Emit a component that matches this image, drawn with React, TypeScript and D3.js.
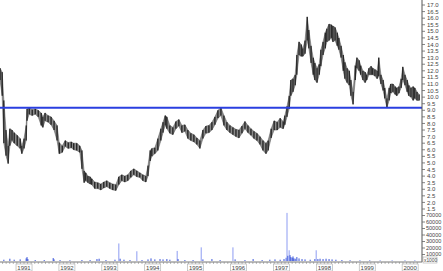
import React from "react";
import * as d3 from "d3";

const W = 443;
const H = 271;

// decimal-year dates of price bars
const dates = [
  1990.44, 1990.49, 1990.53, 1990.58, 1990.63, 1990.67, 1990.72, 1990.77, 1990.84, 1990.91,
  1990.95, 1991.0, 1991.05, 1991.07, 1991.12, 1991.19, 1991.26, 1991.33, 1991.4, 1991.44,
  1991.49, 1991.56, 1991.63, 1991.7, 1991.77, 1991.82, 1991.89, 1991.96, 1992.03, 1992.1,
  1992.16, 1992.23, 1992.3, 1992.35, 1992.4, 1992.44, 1992.49, 1992.54, 1992.58, 1992.65,
  1992.72, 1992.79, 1992.86, 1992.93, 1993.0, 1993.07, 1993.14, 1993.21, 1993.28, 1993.35,
  1993.42, 1993.49, 1993.56, 1993.63, 1993.7, 1993.77, 1993.84, 1993.89, 1993.94, 1993.98,
  1994.05, 1994.12, 1994.19, 1994.24, 1994.29, 1994.33, 1994.4, 1994.47, 1994.54, 1994.61,
  1994.68, 1994.75, 1994.82, 1994.89, 1994.96, 1995.03, 1995.1, 1995.17, 1995.24, 1995.31,
  1995.38, 1995.45, 1995.52, 1995.59, 1995.66, 1995.73, 1995.8, 1995.87, 1995.94, 1996.01,
  1996.08, 1996.15, 1996.22, 1996.29, 1996.36, 1996.43, 1996.5, 1996.57, 1996.64, 1996.69,
  1996.76, 1996.83, 1996.9, 1996.97, 1997.04, 1997.08, 1997.13, 1997.18, 1997.22, 1997.27,
  1997.32, 1997.36, 1997.41, 1997.46, 1997.5, 1997.55, 1997.6, 1997.64, 1997.69, 1997.74,
  1997.78, 1997.83, 1997.88, 1997.92, 1997.97, 1998.02, 1998.06, 1998.11, 1998.16, 1998.2,
  1998.25, 1998.3, 1998.34, 1998.39, 1998.44, 1998.48, 1998.53, 1998.58, 1998.62, 1998.67,
  1998.72, 1998.76, 1998.81, 1998.85, 1998.9, 1998.95, 1998.99, 1999.04, 1999.09, 1999.13,
  1999.18, 1999.23, 1999.27, 1999.32, 1999.37, 1999.41, 1999.46, 1999.51, 1999.55, 1999.6,
  1999.65, 1999.69, 1999.74, 1999.79, 1999.83, 1999.88, 1999.93, 1999.97, 2000.02, 2000.07,
  2000.11, 2000.16, 2000.21,
];

const highs = [
  12.2, 11.9, 9.75, 7.5, 6.3, 7.6, 7.5, 7.3, 7.1, 6.85,
  6.3, 6.85, 7.85, 9.1, 9.2, 9.05, 9.1, 9.0, 8.8, 8.5,
  8.8, 8.6, 8.5, 8.2, 7.85, 6.55, 6.3, 6.7, 6.55, 6.6,
  6.5, 6.5, 6.3, 5.95, 4.4, 4.25, 4.0, 3.95, 3.8, 3.55,
  3.5, 3.4, 3.55, 3.65, 3.5, 3.4, 3.35, 3.95, 4.1, 4.0,
  4.1, 4.4, 4.55, 4.4, 4.25, 4.1, 4.0, 4.8, 5.95, 6.1,
  6.15, 6.85, 7.6, 8.1, 8.6, 8.5, 7.85, 7.7, 8.15, 8.3,
  7.85, 7.9, 7.5, 7.25, 7.15, 6.9, 6.7, 7.5, 7.8, 7.85,
  8.1, 8.5, 9.0, 9.2, 8.6, 8.1, 7.85, 7.7, 7.55, 7.5,
  7.8, 8.15, 7.85, 7.6, 7.4, 7.25, 7.0, 6.7, 6.5, 6.7,
  7.6, 8.2, 8.1, 8.4, 8.15, 8.6, 9.3, 10.1, 11.3, 11.4,
  11.7, 13.2, 14.2, 14.0, 13.7, 14.3, 16.1, 15.1, 13.9, 13.0,
  12.6, 12.2, 12.5, 13.6, 14.2, 14.9, 15.2, 15.55, 15.5, 15.4,
  15.3, 14.9, 14.5, 13.9, 13.2, 12.65, 12.2, 12.0, 11.3, 10.4,
  12.4, 13.0, 12.8, 12.4, 12.0, 11.9, 11.7, 12.2, 12.35, 12.2,
  12.1, 12.0, 13.0, 11.7, 11.3, 10.7, 9.9, 10.7, 11.0, 11.0,
  10.8, 10.7, 10.8, 11.4, 12.3, 11.7, 11.3, 10.9, 10.7, 10.8,
  10.7, 10.4, 10.2,
];

const lows = [
  11.3, 10.1, 6.5, 5.55, 4.95, 6.3, 6.7, 6.5, 6.3, 6.1,
  5.7, 6.1, 6.7, 8.2, 8.7, 8.6, 8.7, 8.5, 7.85, 7.7,
  8.2, 8.1, 7.9, 7.5, 6.7, 5.7, 5.8, 6.25, 6.1, 6.15,
  6.0, 5.95, 5.8, 4.55, 3.5, 3.65, 3.5, 3.4, 3.35, 3.05,
  3.05, 2.95, 3.1, 3.2, 3.05, 2.95, 2.9, 3.35, 3.65, 3.55,
  3.65, 3.9, 4.1, 3.95, 3.9, 3.65, 3.55, 4.0, 5.15, 5.5,
  5.7, 5.95, 6.7, 7.3, 7.85, 7.6, 7.25, 7.15, 7.6, 7.8,
  7.3, 7.4, 6.85, 6.7, 6.6, 6.4, 6.1, 6.85, 7.25, 7.3,
  7.5, 7.9, 8.4, 8.6, 7.85, 7.5, 7.3, 7.15, 7.0, 6.9,
  7.25, 7.6, 7.3, 7.1, 6.85, 6.7, 6.4, 5.95, 5.7, 5.95,
  6.9, 7.5, 7.5, 7.7, 7.6, 7.9, 8.5, 9.1, 10.1, 10.4,
  10.9, 11.7, 13.2, 13.1, 13.1, 13.3, 14.3, 13.7, 12.6, 11.7,
  11.3, 11.1, 11.7, 12.35, 13.2, 13.7, 14.2, 14.3, 14.5, 14.2,
  14.3, 13.9, 13.6, 13.0, 12.0, 11.4, 11.1, 10.9, 10.1, 9.45,
  11.3, 12.2, 12.0, 11.7, 11.3, 11.1, 11.3, 11.7, 11.7, 11.7,
  11.6, 11.4, 11.6, 11.0, 10.5, 9.9, 9.2, 9.75, 10.3, 10.4,
  10.2, 10.1, 10.3, 10.7, 11.3, 10.9, 10.4, 10.1, 10.0, 9.75,
  9.9, 9.75, 9.75,
];

const volDates = [
  1990.53, 1990.67, 1990.77, 1990.91, 1991.05, 1991.07, 1991.09, 1991.26, 1991.47, 1991.68,
  1991.7, 1991.84, 1992.07, 1992.35, 1992.54, 1992.7, 1992.75, 1992.91, 1993.12, 1993.21,
  1993.24, 1993.33, 1993.47, 1993.63, 1993.75, 1993.89, 1993.96, 1994.05, 1994.17, 1994.24,
  1994.33, 1994.4, 1994.57, 1994.59, 1994.75, 1994.94, 1995.13, 1995.17, 1995.38, 1995.57,
  1995.87, 1995.92, 1996.15, 1996.34, 1996.55, 1996.73, 1996.85, 1996.97, 1997.06, 1997.11,
  1997.13, 1997.15, 1997.18, 1997.2, 1997.22, 1997.25, 1997.27, 1997.29, 1997.32, 1997.36,
  1997.41, 1997.48, 1997.55, 1997.67, 1997.78, 1997.81, 1997.85, 1997.9, 1997.97, 1998.04,
  1998.11, 1998.18, 1998.27, 1998.41, 1998.6, 1998.83, 1999.06, 1999.3, 1999.58, 1999.88,
  2000.11,
];

const volumes = [
  2000, 3500, 2000, 2500, 4000, 6000, 3000, 1500, 1500, 4500,
  2500, 1500, 1200, 1500, 1500, 3000, 3500, 1500, 2000, 27000,
  3500, 2000, 1500, 15000, 1500, 2500, 4000, 2500, 3000, 2500,
  3000, 2000, 15500, 3000, 1500, 1500, 21000, 2500, 3000, 1500,
  21000, 2500, 1500, 3000, 1500, 2000, 2500, 2000, 3000, 5000,
  74000, 8000, 16500, 9000, 6000, 5000, 7000, 4000, 3500, 6000,
  4000, 3000, 2500, 2000, 3000, 16500, 3000, 3500, 3000, 3500,
  3000, 2500, 2000, 1500, 1200, 1000, 1000, 800, 800, 800,
  800,
];

const priceTicks = [
  17.0, 16.5, 16.0, 15.5, 15.0, 14.5, 14.0, 13.5, 13.0, 12.5, 12.0, 11.5, 11.0, 10.5, 10.0,
  9.5, 9.0, 8.5, 8.0, 7.5, 7.0, 6.5, 6.0, 5.5, 5.0, 4.5, 4.0, 3.5, 3.0, 2.5, 2.0, 1.5,
];
const volumeTicks = [70000, 60000, 50000, 40000, 30000, 20000, 10000];
const yearLabels = [1991, 1992, 1993, 1994, 1995, 1996, 1997, 1998, 1999, 2000];
const levelLine = 9.2;

export default function App() {
  const x = d3.scaleLinear().domain([1990.44, 2000.23]).range([0, 420]);
  const y = d3.scaleLinear().domain([1.5, 17]).range([209, 5]);
  const yv = d3.scaleLinear().domain([0, 70000]).range([261, 215.5]);
  const axisX = 422;
  const baseY = 262;

  const bars = dates.map((d, i) => ({ d, h: highs[i], l: lows[i] }));
  const area = d3
    .area<{ d: number; h: number; l: number }>()
    .x((p) => x(p.d))
    .y0((p) => y(p.l))
    .y1((p) => y(p.h));

  const months: number[] = [];
  for (let m = Math.ceil(1990.44 * 12); m <= Math.floor(2000.23 * 12); m++) months.push(m / 12);

  const font = "'Liberation Sans', Arial, sans-serif";

  return (
    <svg
      width={W}
      height={H}
      style={{ position: "absolute", left: 0, top: 0, background: "#fff" }}
      fontFamily={font}
    >
      <rect x={0} y={0} width={W} height={H} fill="#fff" />
      {/* price band */}
      <path d={area(bars) || ""} fill="#8a8a8a" stroke="#555" strokeWidth={0.5} />
      {bars.map((b, i) => (
        <line
          key={i}
          x1={x(b.d)}
          x2={x(b.d)}
          y1={y(b.h)}
          y2={y(b.l)}
          stroke="#000"
          strokeWidth={1}
        />
      ))}
      {/* horizontal level line */}
      <line x1={0} x2={axisX} y1={y(levelLine)} y2={y(levelLine)} stroke="#2a3fe0" strokeWidth={2} />

      {/* volume */}
      {volDates.map((d, i) => (
        <line
          key={"v" + i}
          x1={x(d)}
          x2={x(d)}
          y1={yv(0)}
          y2={yv(volumes[i])}
          stroke={volumes[i] > 10000 ? "#8d9cf2" : "#3550d8"}
          strokeWidth={1}
        />
      ))}

      {/* right axis */}
      <line x1={axisX} x2={axisX} y1={0} y2={baseY} stroke="#555" strokeWidth={1} />
      {priceTicks.map((t) => (
        <g key={"p" + t}>
          <line x1={axisX} x2={axisX + 3} y1={y(t)} y2={y(t)} stroke="#666" strokeWidth={0.8} />
          <text x={427} y={y(t)} dy="0.35em" fontSize={6} fill="#444">
            {t.toFixed(1)}
          </text>
        </g>
      ))}
      {volumeTicks.map((t) => (
        <g key={"vt" + t}>
          <line x1={axisX} x2={axisX + 3} y1={yv(t)} y2={yv(t)} stroke="#666" strokeWidth={0.8} />
          <text x={426} y={yv(t)} dy="0.35em" fontSize={5.5} fill="#444">
            {t}
          </text>
        </g>
      ))}
      <rect x={423} y={257} width={14} height={6} fill="#fff" stroke="#999" strokeWidth={0.5} />
      <text x={424} y={261.8} fontSize={4.8} fill="#444">
        x1000
      </text>

      {/* bottom axis */}
      <line x1={0} x2={axisX} y1={baseY} y2={baseY} stroke="#777" strokeWidth={1} />
      {months.map((m, i) => (
        <line key={"m" + i} x1={x(m)} x2={x(m)} y1={baseY} y2={baseY + 2} stroke="#888" strokeWidth={0.6} />
      ))}
      {yearLabels.map((yr) => (
        <g key={"y" + yr}>
          <rect x={x(yr) - 8} y={264} width={16} height={7} fill="#fff" stroke="#aaa" strokeWidth={0.6} />
          <text x={x(yr)} y={269.5} fontSize={6} fill="#444" textAnchor="middle">
            {yr}
          </text>
        </g>
      ))}
    </svg>
  );
}
